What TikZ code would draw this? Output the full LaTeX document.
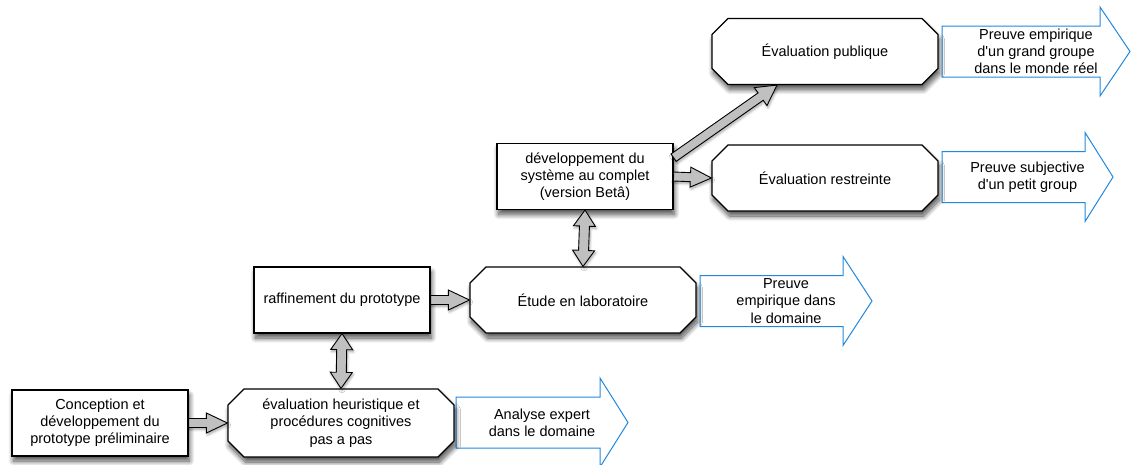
\documentclass[tikz,border=0pt]{standalone}
\usepackage{fontspec}
\setmainfont{Liberation Sans}
\usetikzlibrary{calc,shapes.misc,shadows.blur}

\definecolor{outblue}{RGB}{34,136,222}
\definecolor{arrowgray}{RGB}{192,192,192}

\tikzset{
  txt/.style={font=\fontsize{14.5}{17.2}\selectfont, align=center},
  boxshadow/.style={blur shadow={shadow blur steps=12, shadow xshift=1.5pt,
      shadow yshift=-5pt, shadow opacity=70, shadow blur radius=5pt}},
  plainbox/.style={txt, rectangle, draw=black, line width=1.2pt, fill=white,
      minimum width=176pt, minimum height=66pt, inner sep=2pt, boxshadow},
  octbox/.style={txt, chamfered rectangle, draw=black, line width=1.2pt, fill=white,
      chamfered rectangle xsep=8pt, chamfered rectangle ysep=8pt,
      minimum width=226pt, minimum height=66pt, inner sep=2pt, boxshadow},
  outline/.style={draw=outblue, line width=1pt, fill=white, line join=miter},
  outtext/.style={txt},
  fat shaft/.store in=\fatshaft, fat head/.store in=\fathead, fat len/.store in=\fatlen,
  fat shaft=4.5pt, fat head=10pt, fat len=21pt,
  fatbase/.style={draw=black, line width=0.9pt, fill=arrowgray, line join=miter,
      blur shadow={shadow blur steps=6, shadow xshift=1pt, shadow yshift=-2pt,
      shadow opacity=35, shadow blur radius=2.5pt}},
  % single-headed block arrow between two points
  fatarrow/.style={fatbase, to path={
    let \p1=($(\tikztotarget)!\fatlen!(\tikztostart)$) in
    ($(\tikztostart)!\fatshaft!90:(\tikztotarget)$)
    -- ($(\p1)!\fatshaft!90:(\tikztotarget)$)
    -- ($(\p1)!\fathead!90:(\tikztotarget)$)
    -- (\tikztotarget)
    -- ($(\p1)!\fathead!-90:(\tikztotarget)$)
    -- ($(\p1)!\fatshaft!-90:(\tikztotarget)$)
    -- ($(\tikztostart)!\fatshaft!-90:(\tikztotarget)$) -- cycle}},
  % double-headed block arrow between two points
  fatboth/.style={fatbase, to path={
    let \p1=($(\tikztotarget)!\fatlen!(\tikztostart)$),
        \p2=($(\tikztostart)!\fatlen!(\tikztotarget)$) in
    (\tikztostart)
    -- ($(\p2)!\fathead!90:(\tikztotarget)$)
    -- ($(\p2)!\fatshaft!90:(\tikztotarget)$)
    -- ($(\p1)!\fatshaft!90:(\tikztotarget)$)
    -- ($(\p1)!\fathead!90:(\tikztotarget)$)
    -- (\tikztotarget)
    -- ($(\p1)!\fathead!-90:(\tikztotarget)$)
    -- ($(\p1)!\fatshaft!-90:(\tikztotarget)$)
    -- ($(\p2)!\fatshaft!-90:(\tikztotarget)$)
    -- ($(\p2)!\fathead!-90:(\tikztotarget)$) -- cycle}},
}

% outcome arrow: left x, centre y, end of body x, tip x
\newcommand\outshape[4]{%
  \draw[outline] (#1,#2-25.5) -- (#3,#2-25.5) -- (#3,#2-44.5) -- (#4,#2)
    -- (#3,#2+44.5) -- (#3,#2+25.5) -- (#1,#2+25.5) -- cycle;}

\begin{document}
\begin{tikzpicture}[x=1pt,y=-1pt]
\useasboundingbox (0,0) rectangle (1131,464);

% outcome arrows
\outshape{456}{422.5}{600}{628}
\node[outtext] (Bo) at (542,422.5) {Analyse expert\\dans le domaine};
\outshape{700}{301}{843}{872}
\node[outtext] (Do) at (786,301) {Preuve\\empirique dans\\le domaine};
\outshape{942}{177}{1085}{1113}
\node[outtext] (Fo) at (1027.5,177) {Preuve subjective\\d\textquotesingle un petit group};
\outshape{942}{51.5}{1100}{1130}
\node[outtext] (Go) at (1036,51.5) {Preuve empirique\\d\textquotesingle un grand groupe\\dans le monde réel};

% stages
\node[plainbox] (A) at (100,423) {Conception et\\développement du\\prototype préliminaire};
\node[octbox]   (B) at (341,423) {évaluation heuristique et\\procédures cognitives\\pas a pas};
\node[plainbox] (C) at (342,300) {raffinement du prototype};
\node[octbox]   (D) at (583,300) {Étude en laboratoire};
\node[plainbox] (E) at (585,176.5) {développement du\\système au complet\\(version Betâ)};
\node[octbox]   (F) at (825,178) {Évaluation restreinte};
\node[octbox]   (G) at (825,51.5) {Évaluation publique};

% transitions
\draw[fatarrow] (A.east) to (B.west);
\draw[fatarrow] (C.east) to (D.west);
\draw[fatarrow] (E.east) to (F.west);
\draw[fatarrow, fat shaft=4.5pt, fat head=11pt, fat len=20pt] (E.12) to (G.215);
\draw[fatboth, fat shaft=5pt, fat head=11pt, fat len=16pt] (C.south) to (B.north);
\draw[fatboth, fat shaft=5pt, fat head=11pt, fat len=16pt] (E.south) to (D.north);
\end{tikzpicture}
\end{document}
